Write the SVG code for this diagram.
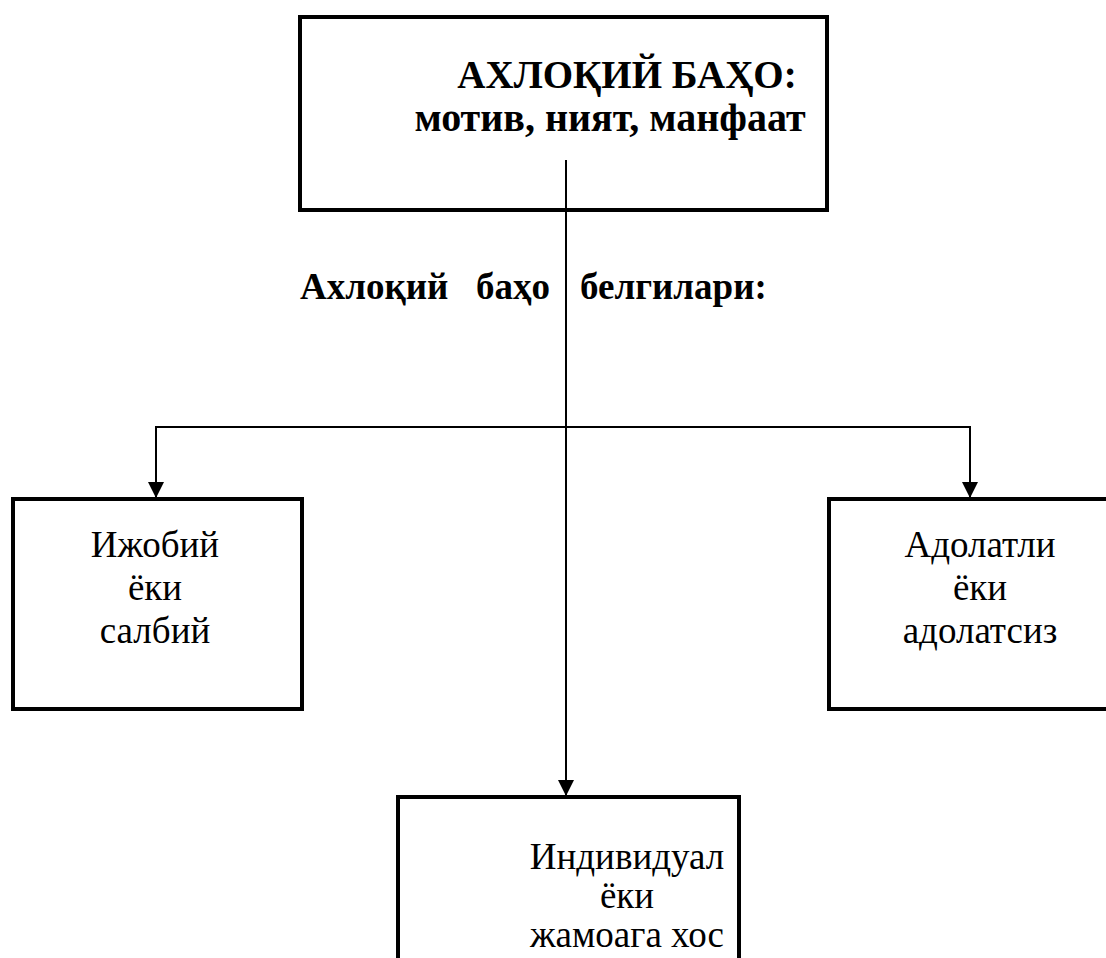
<svg xmlns="http://www.w3.org/2000/svg" width="1106" height="958" viewBox="0 0 1106 958">
<style>
.box{fill:#fff;stroke:#000;stroke-width:4}
.t{font-family:"Liberation Serif","Times New Roman",serif;fill:#000}
.b{font-weight:bold;font-size:37px}
.r{font-size:37px}
.m{text-anchor:middle}
.c{fill:none;stroke:#000;stroke-width:2}
</style>
<defs>
<marker id="ah" viewBox="0 0 10 10" refX="10" refY="5" markerWidth="17" markerHeight="16" markerUnits="userSpaceOnUse" orient="auto"><path d="M0,0 L10,5 L0,10 z" fill="#000"/></marker>
</defs>
<rect width="1106" height="958" fill="#fff"/>
<g id="node-top">
<rect class="box" x="300" y="17" width="527" height="193"/>
<text class="t m" style="font-weight:bold;font-size:39px" x="627" y="88">АХЛОҚИЙ БАҲО:</text>
<text class="t m" style="font-weight:bold;font-size:40px" x="610" y="131">мотив, ният, манфаат</text>
</g>
<g id="node-left">
<rect class="box" x="13" y="499" width="289" height="210"/>
<text class="t r m" x="155" y="557">Ижобий</text>
<text class="t r m" x="155" y="600">ёки</text>
<text class="t r m" x="155" y="643">салбий</text>
</g>
<g id="node-right">
<rect class="box" x="829" y="499" width="300" height="210"/>
<text class="t r m" x="980" y="557">Адолатли</text>
<text class="t r m" x="980" y="600">ёки</text>
<text class="t r m" x="980" y="643">адолатсиз</text>
</g>
<g id="node-bottom">
<rect class="box" x="398" y="797" width="341" height="200"/>
<text class="t r m" x="627" y="869">Индивидуал</text>
<text class="t r m" x="627" y="908">ёки</text>
<text class="t r m" x="627" y="947">жамоага хос</text>
</g>
<g id="label">
<text class="t b" x="300" y="299">Ахлоқий</text>
<text class="t b" x="476" y="299">баҳо</text>
<text class="t b" x="580" y="299">белгилари:</text>
</g>
<g id="connectors">
<line class="c" x1="566" y1="160" x2="566" y2="796" marker-end="url(#ah)"/>
<polyline class="c" points="156,480 156,427 970,427 970,480"/>
<line class="c" x1="156" y1="427" x2="156" y2="498" marker-end="url(#ah)"/>
<line class="c" x1="970" y1="427" x2="970" y2="498" marker-end="url(#ah)"/>
</g>
</svg>
